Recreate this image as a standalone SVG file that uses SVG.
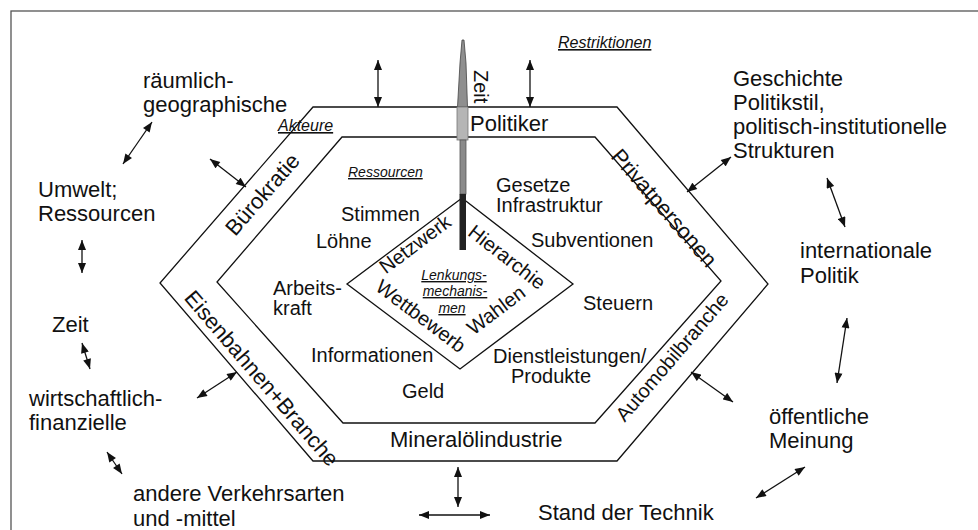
<svg xmlns="http://www.w3.org/2000/svg" width="978" height="530" viewBox="0 0 978 530">
<defs>
<style>
text{font-family:"Liberation Sans",Arial,sans-serif;fill:#111}
.o{font-size:22px}
.i{font-size:20px}
.h{font-size:16px;font-style:italic;text-decoration:underline}
.s{font-size:14px;font-style:italic;text-decoration:underline}
.shape{fill:#fff;stroke:#111;stroke-width:1.3}
.c line{stroke:#111;stroke-width:1.3;marker-start:url(#ah);marker-end:url(#ah)}
</style>
<marker id="ah" viewBox="0 0 10 8" refX="10" refY="4" markerWidth="11" markerHeight="8" orient="auto-start-reverse" markerUnits="userSpaceOnUse"><path d="M0,0 L10,4 L0,8 z" fill="#111"/></marker>
</defs>
<rect x="0" y="0" width="978" height="530" fill="#fff"/>
<rect id="frame" x="11" y="11" width="990" height="540" fill="none" stroke="#555" stroke-width="1.3"/>

<g id="hex-outer"><polygon class="shape" points="313,107 617,107 768,284 617,461 313,461 160,283"/></g>
<g id="hex-inner"><polygon class="shape" points="342,137 595,137 721,281 595,423 343,423 217,282"/></g>
<g id="diamond"><polygon class="shape" points="462,198 573,284 460,369 347,284"/></g>

<g id="pole">
<polygon points="462,40 464,40 466,63 467.5,107 457.5,107 460,63" fill="#8f8f8f" stroke="#444" stroke-width="0.8"/>
<rect x="457" y="107" width="11" height="33" fill="#b5b5b5" stroke="#777" stroke-width="0.8"/>
<rect x="460" y="140" width="6" height="54" fill="#8a8a8a" stroke="#555" stroke-width="0.8"/>
<rect x="459.5" y="194" width="6.5" height="56" fill="#222"/>
</g>

<g id="labels-titles">
<text class="h" x="558" y="48">Restriktionen</text>
<text class="h" x="278" y="131">Akteure</text>
<text class="s" x="348" y="177">Ressourcen</text>
<text class="s" text-anchor="middle" x="454" y="280">Lenkungs-</text>
<text class="s" text-anchor="middle" x="455" y="296">mechanis-</text>
<text class="s" text-anchor="middle" x="452" y="313">men</text>
</g>

<g id="zeit-pole-label"><text class="i" transform="translate(474,70) rotate(90)">Zeit</text></g>

<g id="actors">
<text class="o" x="470" y="131">Politiker</text>
<text class="o" x="390" y="447">Mineralölindustrie</text>
<text class="o" text-anchor="middle" transform="translate(262,194) rotate(-49)" y="8">Bürokratie</text>
<text class="o" text-anchor="middle" transform="translate(262,378) rotate(49.3)" y="8">Eisenbahnen+Branche</text>
<text class="o" transform="translate(610,157) rotate(49)">Privatpersonen</text>
<text class="o" text-anchor="middle" transform="translate(672,357) rotate(-49.4)" y="7" style="font-size:20px">Automobilbranche</text>
</g>

<g id="resources">
<text class="i" x="496" y="192">Gesetze</text>
<text class="i" x="496" y="212">Infrastruktur</text>
<text class="i" x="341" y="221">Stimmen</text>
<text class="i" x="316" y="248">Löhne</text>
<text class="i" x="531" y="247">Subventionen</text>
<text class="i" x="273" y="295">Arbeits-</text>
<text class="i" x="273" y="315">kraft</text>
<text class="i" x="583" y="310">Steuern</text>
<text class="i" x="311" y="362">Informationen</text>
<text class="i" x="493" y="363">Dienstleistungen/</text>
<text class="i" x="511" y="383">Produkte</text>
<text class="i" x="402" y="398">Geld</text>
</g>

<g id="mechanisms">
<text class="i" text-anchor="middle" transform="translate(415,244) rotate(-36.8)" y="7">Netzwerk</text>
<text class="i" text-anchor="middle" transform="translate(507,257) rotate(37.8)" y="7">Hierarchie</text>
<text class="i" text-anchor="middle" transform="translate(421,316) rotate(37)" y="7">Wettbewerb</text>
<text class="i" text-anchor="middle" transform="translate(496,310) rotate(-37)" y="7">Wahlen</text>
</g>

<g id="restrictions">
<g id="r-raum"><text class="o" x="143" y="88">räumlich-</text><text class="o" x="143" y="112">geographische</text></g>
<g id="r-umwelt"><text class="o" x="38" y="197">Umwelt;</text><text class="o" x="38" y="221">Ressourcen</text></g>
<g id="r-zeit"><text class="o" x="52" y="332">Zeit</text></g>
<g id="r-wirt"><text class="o" x="29" y="406">wirtschaftlich-</text><text class="o" x="29" y="430">finanzielle</text></g>
<g id="r-verkehr"><text class="o" x="133" y="501">andere Verkehrsarten</text><text class="o" x="133" y="526">und -mittel</text></g>
<g id="r-technik"><text class="o" x="538" y="520">Stand der Technik</text></g>
<g id="r-meinung"><text class="o" x="769" y="424">öffentliche</text><text class="o" x="769" y="448">Meinung</text></g>
<g id="r-intl"><text class="o" x="800" y="258">internationale</text><text class="o" x="800" y="283">Politik</text></g>
<g id="r-gesch"><text class="o" x="733" y="86">Geschichte</text><text class="o" x="733" y="110">Politikstil,</text><text class="o" x="733" y="134">politisch-institutionelle</text><text class="o" x="733" y="158">Strukturen</text></g>
</g>

<g id="connectors" class="c">
<line x1="378" y1="60" x2="378" y2="107"/>
<line x1="530" y1="60" x2="530" y2="107"/>
<line x1="152" y1="122" x2="123" y2="164"/>
<line x1="210" y1="159" x2="246" y2="187"/>
<line x1="82" y1="240" x2="82" y2="273"/>
<line x1="82" y1="343" x2="90" y2="369"/>
<line x1="197" y1="398" x2="237" y2="372"/>
<line x1="107" y1="452" x2="122" y2="474"/>
<line x1="458" y1="467" x2="458" y2="507"/>
<line x1="419" y1="515" x2="490" y2="515"/>
<line x1="687" y1="192" x2="731" y2="157"/>
<line x1="827" y1="178" x2="845" y2="227"/>
<line x1="847" y1="318" x2="837" y2="383"/>
<line x1="691" y1="372" x2="733" y2="402"/>
<line x1="805" y1="467" x2="756" y2="498"/>
</g>
</svg>
